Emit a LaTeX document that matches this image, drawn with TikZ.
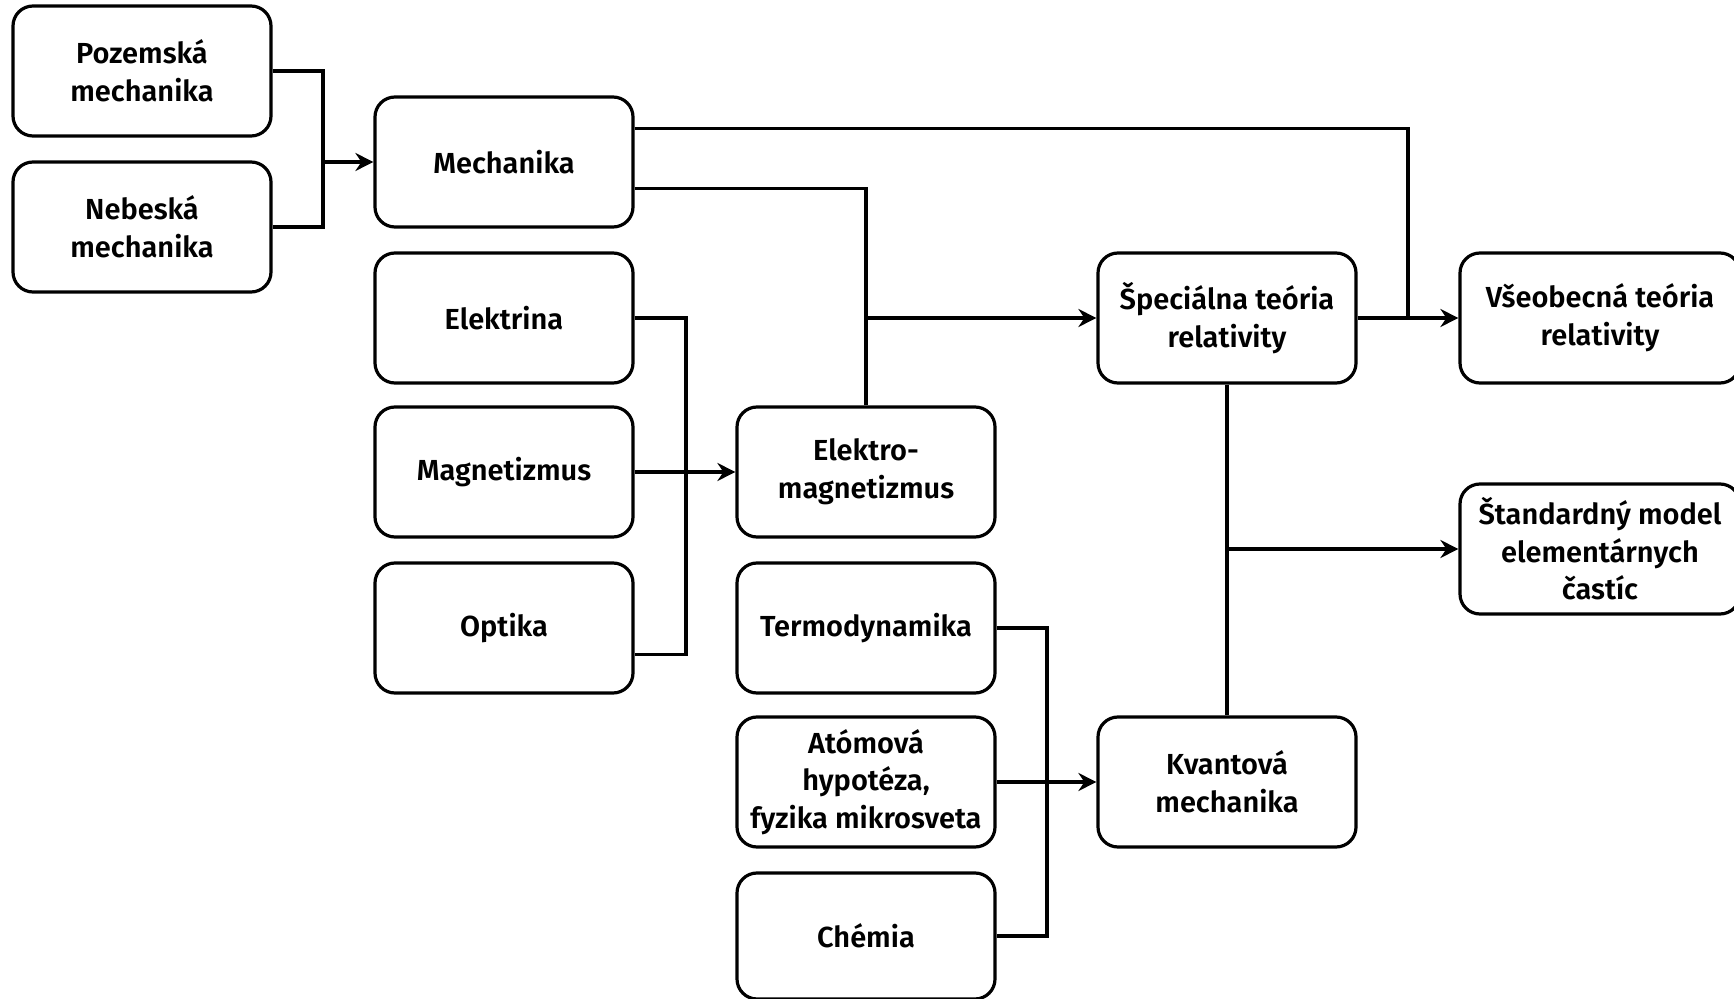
\documentclass[tikz,border=0pt]{standalone}
\usepackage{fontspec}
\setmainfont{Fira Sans}[BoldFont={Fira Sans SemiBold}]
\usetikzlibrary{arrows.meta,calc}
\begin{document}
\begin{tikzpicture}[x=0.5pt,y=-0.5pt,
  box/.style={draw,line width=1.6pt,rounded corners=10pt,minimum width=129pt,minimum height=65pt,inner sep=0pt,align=center,font=\fontsize{14.5}{18.8}\selectfont\bfseries},
  widebox/.style={box,minimum width=140pt},
  conn/.style={line width=1.6pt},
  arr/.style={conn,-{Stealth[length=9pt,width=9pt,inset=3pt]}}]
\useasboundingbox (0,0) rectangle (1734,999);
\node[box] (poz) at (142,71) {Pozemská\\mechanika};
\node[box] (neb) at (142,227) {Nebeská\\mechanika};
\node[box] (mech) at (504,162) {Mechanika};
\node[box] (elek) at (504,318) {Elektrina};
\node[box] (mag) at (504,472) {Magnetizmus};
\node[box] (opt) at (504,628) {Optika};
\node[box] (em) at (866,472) {Elektro-\\magnetizmus};
\node[box] (term) at (866,628) {Termodynamika};
\node[box] (atom) at (866,782) {Atómová\\hypotéza,\\fyzika mikrosveta};
\node[box,minimum height=63pt] (chem) at (866,936) {Chémia};
\node[box] (spec) at (1227,318) {Špeciálna teória\\relativity};
\node[box] (kvant) at (1227,782) {Kvantová\\mechanika};
\node[widebox] (vse) at (1600,318) {Všeobecná teória\\relativity};
\node[widebox] (std) at (1600,549) {Štandardný model\\elementárnych\\častíc};
\coordinate (j1) at (323,162);
\coordinate (j2) at (866,318);
\coordinate (j3) at (1408,318);
\coordinate (j4) at (686,472);
\coordinate (j5) at (1047,782);
\coordinate (j6) at (1227,549);
\coordinate (mechU) at ($(mech.north east)!0.25!(mech.south east)$);
\coordinate (mechL) at ($(mech.north east)!0.7!(mech.south east)$);
\coordinate (optL) at ($(opt.north east)!0.7!(opt.south east)$);
\draw[conn] (poz.east) -| (j1) |- (neb.east);
\draw[arr] (j1) -- (mech.west);
\draw[conn] (mechU) -| (j3);
\draw[conn] (mechL) -| (em.north);
\draw[arr] (j2) -- (spec.west);
\draw[arr] (spec.east) -- (vse.west);
\draw[conn] (elek.east) -| (j4) |- (optL);
\draw[arr] (mag.east) -- (em.west);
\draw[conn] (term.east) -| (j5) |- (chem.east);
\draw[arr] (atom.east) -- (kvant.west);
\draw[conn] (spec.south) -- (kvant.north);
\draw[arr] (j6) -- (std.west);
\end{tikzpicture}
\end{document}
